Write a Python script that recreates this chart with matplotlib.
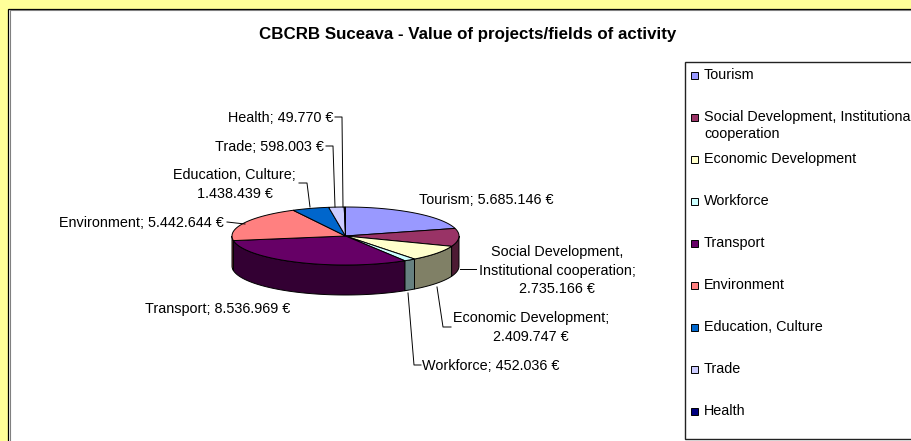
import numpy as np
import matplotlib
matplotlib.use("Agg")
import matplotlib.pyplot as plt
from matplotlib.patches import Rectangle

plt.rcParams["font.family"] = ["Liberation Sans", "DejaVu Sans"]

title = "CBCRB Suceava - Value of projects/fields of activity"
categories = ["Tourism", "Social Development, Institutional\ncooperation", "Economic Development",
              "Workforce", "Transport", "Environment", "Education, Culture", "Trade", "Health"]
label_names = ["Tourism", "Social Development,\nInstitutional cooperation", "Economic Development",
               "Workforce", "Transport", "Environment", "Education, Culture", "Trade", "Health"]
values = [5685146, 2735166, 2409747, 452036, 8536969, 5442644, 1438439, 598003, 49770]
colors = ["#9999FF", "#993366", "#FFFFCC", "#CCFFFF", "#660066", "#FF8080", "#0066CC", "#CCCCFF", "#000080"]
side_colors = ["#4C4C80", "#4D1A33", "#808066", "#668080", "#330033", "#804040", "#003366", "#666680", "#000040"]

# pie geometry in pixels
cx, cy = 345.5, 236
rx, ry = 113.5, 29
depth = 30
font_size = 10.4


def fmt(v):
    return f"{v:,}".replace(",", ".") + " €"


def arc(t1, t2):
    t = np.radians(np.linspace(t1, t2, 80))
    return cx + rx * np.sin(t), cy - ry * np.cos(t)


fig = plt.figure(figsize=(9.12, 4.41), dpi=100, facecolor="#FFFF99")
ax = fig.add_axes([0, 0, 1, 1])
ax.set_xlim(0, 912)
ax.set_ylim(441, 0)
ax.axis("off")

# chart area with its shadowed border
ax.add_patch(Rectangle((8.5, 8.5), 920, 450, fc="white", ec="black", lw=0.9))
ax.plot([9.6, 9.6], [9.6, 441], color="#808080", lw=0.8)
ax.plot([9.6, 912], [9.6, 9.6], color="#808080", lw=0.8)

ax.text(468, 34, title, ha="center", va="center", fontsize=12.2, fontweight="bold")

edges = np.concatenate([[0], np.cumsum(values)]) / sum(values) * 360

# side walls first, only the front half shows
for i in range(len(values)):
    t1, t2 = max(edges[i], 90), min(edges[i + 1], 270)
    if t1 >= t2:
        continue
    x, y = arc(t1, t2)
    ax.fill(np.r_[x, x[::-1]], np.r_[y, y[::-1] + depth], fc=side_colors[i], ec="black", lw=0.7, zorder=3)

# top face
for i in range(len(values)):
    x, y = arc(edges[i], edges[i + 1])
    ax.fill(np.r_[cx, x], np.r_[cy, y], fc=colors[i], ec="black", lw=0.7, zorder=4)

# data labels: x, y, ha
label_pos = [(419, 200, "left"), (557, 270.5, "center"), (531, 327.5, "center"),
             (422, 366, "left"), (145, 309, "left"), (59, 223, "left"),
             (234.5, 184.5, "center"), (324, 147, "right"), (333, 118, "right")]
wrapped = {2: "Economic Development;\n", 6: "Education, Culture;\n"}
for i, (x, y, ha) in enumerate(label_pos):
    if i in wrapped:
        txt = wrapped[i] + fmt(values[i])
    elif i == 1:
        txt = label_names[i] + ";\n" + fmt(values[i])
    else:
        txt = label_names[i] + "; " + fmt(values[i])
    ax.text(x, y, txt, ha=ha, va="center", fontsize=font_size, linespacing=1.42, zorder=6)

leaders = [
    [(476, 269), (460, 269)],
    [(451, 327), (443, 327), (437, 287)],
    [(421, 365), (414, 365), (408, 293)],
    [(227, 222), (245, 224)],
    [(299, 183), (307, 183), (310, 207)],
    [(326, 146), (333, 146), (335, 207)],
    [(335, 117), (342, 117), (343, 207)],
]
for pts in leaders:
    xs, ys = zip(*pts)
    ax.plot(xs, ys, color="black", lw=0.7, zorder=5)

# legend
ax.add_patch(Rectangle((685, 62), 300, 377, fc="white", ec="#222222", lw=1.0, zorder=2))
legend_y = [75, 117, 159, 201, 243, 285, 327, 369, 411]
for name, c, y in zip(categories, colors, legend_y):
    ax.add_patch(Rectangle((691, y - 3.5), 7, 7, fc=c, ec="black", lw=0.7, zorder=3))
    ax.text(704, y - 7, name, ha="left", va="top", fontsize=font_size, linespacing=1.3, zorder=3)

fig.savefig("out.png", dpi=100, facecolor=fig.get_facecolor())
